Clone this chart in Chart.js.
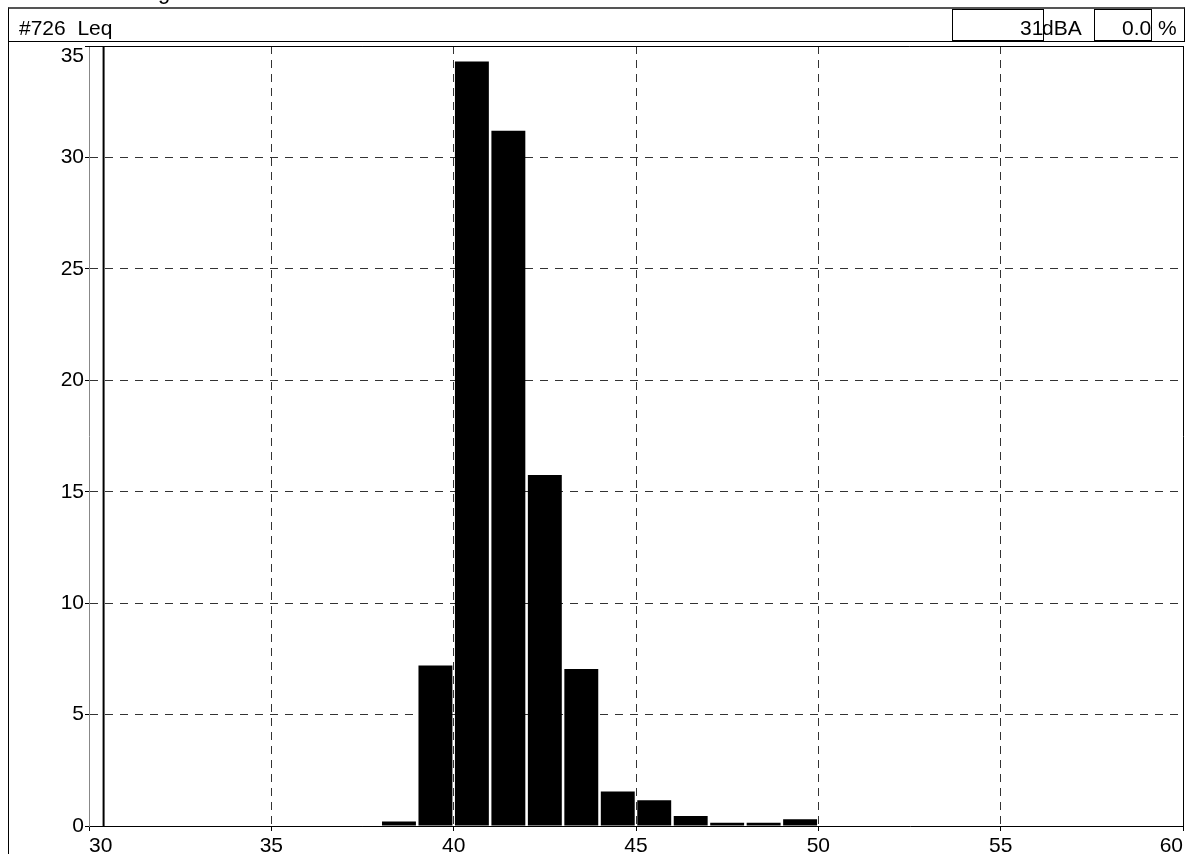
<!DOCTYPE html>
<html lang="en">
  <head>
    <meta charset="UTF-8" />
    <title>Histogram</title>
    <script src="https://cdn.jsdelivr.net/npm/chart.js"></script>
    <style>
      body { margin: 0; background: #fff; font-family: "Liberation Sans", Arial, sans-serif; color: #000; }
      #wrap { position: relative; width: 1187px; height: 854px; overflow: hidden; }
      #myChart { position: absolute; left: 0; top: 0; }
      .abs { position: absolute; white-space: pre; line-height: 1; }
      #title { left: 108px; top: -19px; font-size: 22px; }
      #head { left: 8px; top: 7px; width: 1175px; height: 32px; border: 1px solid #000; border-top: 2px solid #555; background: #fff; }
      #name { left: 19px; top: 17px; font-size: 21px; }
      .box { position: absolute; top: 9px; height: 30px; border: 1px solid #000; }
      #sideline { left: 8px; top: 41px; height: 813px; border-left: 1px solid #000; }
    </style>
  </head>
  <body>
    <div id="wrap">
      <canvas id="myChart" width="1187" height="854"></canvas>
      <div id="title" class="abs">Histogram</div>
      <div id="head" class="abs"></div>
      <div id="sideline" class="abs"></div>
      <div class="abs" id="name">#726  Leq</div>
      <div class="box" style="left:952px;width:90px"></div>
      <div class="abs" style="left:1020px;top:17px;font-size:21px">31</div>
      <div class="abs" style="left:1042px;top:17px;font-size:21px">dBA</div>
      <div class="box" style="left:1094px;width:56px"></div>
      <div class="abs" style="left:1122px;top:17px;font-size:21px">0.0</div>
      <div class="abs" style="left:1158px;top:17px;font-size:21px">%</div>
    </div>

    <script>
      // bin centres (dBA) and share of time (%)
      const binCenters = [38.5, 39.5, 40.5, 41.5, 42.5, 43.5, 44.5, 45.5, 46.5, 47.5, 48.5, 49.5];
      const percents = [0.2, 7.2, 34.3, 31.2, 15.75, 7.05, 1.55, 1.15, 0.45, 0.15, 0.15, 0.3];
      const cursorLevel = 30.4;
      const xTicks = [30, 35, 40, 45, 50, 55, 60];
      const yTicks = [0, 5, 10, 15, 20, 25, 30, 35];

      const gridColor = "#333";

      //上框線、右框線, 35 的字往下
      const framePlugin = {
        id: "frame",
        beforeDraw(chart) {
          const items = chart.scales.y.getLabelItems();
          items.forEach((it) => {
            if (it.label === "35") it.options.textBaseline = "top";
          });
        },
        afterDraw(chart) {
          const { ctx, chartArea: a } = chart;
          ctx.save();
          ctx.strokeStyle = "#000";
          ctx.lineWidth = 1;
          ctx.beginPath();
          ctx.moveTo(a.left, Math.round(a.top) + 0.5);
          ctx.lineTo(a.right + 0.5, Math.round(a.top) + 0.5);
          ctx.lineTo(a.right + 0.5, a.bottom);
          ctx.stroke();
          ctx.restore();
        },
      };

      const ctx = document.getElementById("myChart");
      new Chart(ctx, {
        type: "bar",
        data: {
          datasets: [
            {
              type: "bar",
              data: binCenters.map((x, i) => ({ x: x, y: percents[i] })),
              backgroundColor: "#000",
              borderWidth: 0,
              barPercentage: 0.93,
              categoryPercentage: 1,
            },
            {
              type: "line",
              data: [
                { x: cursorLevel, y: 0 },
                { x: cursorLevel, y: 35 },
              ],
              borderColor: "#000",
              borderWidth: 2,
              pointRadius: 0,
            },
          ],
        },
        options: {
          responsive: false,
          animation: false,
          layout: { padding: { top: 46, right: 4, left: 0, bottom: 0 } },
          plugins: { legend: { display: false }, tooltip: { enabled: false } },
          scales: {
            x: {
              type: "linear",
              min: 30,
              max: 60,
              offset: false,
              afterBuildTicks: (s) => { s.ticks = xTicks.map((v) => ({ value: v })); },
              afterFit: (s) => { s.height = 28; },
              ticks: {
                align: "inner",
                maxRotation: 0,
                padding: 3,
                color: "#000",
                font: { family: "Liberation Sans", size: 21 },
              },
              grid: { color: gridColor, offset: false, tickLength: 5, tickColor: "#000" },
              border: { display: true, color: "#000", dash: [8, 6] },
            },
            y: {
              min: 0,
              max: 35,
              afterBuildTicks: (s) => { s.ticks = yTicks.map((v) => ({ value: v })); },
              afterFit: (s) => { s.width = 89; },
              ticks: {
                padding: 1,
                color: "#000",
                font: { family: "Liberation Sans", size: 21 },
              },
              grid: { color: gridColor, tickLength: 4, tickColor: "#000" },
              border: { display: true, color: "#888", dash: [8, 7] },
            },
          },
        },
        plugins: [framePlugin],
      });
    </script>
  </body>
</html>
